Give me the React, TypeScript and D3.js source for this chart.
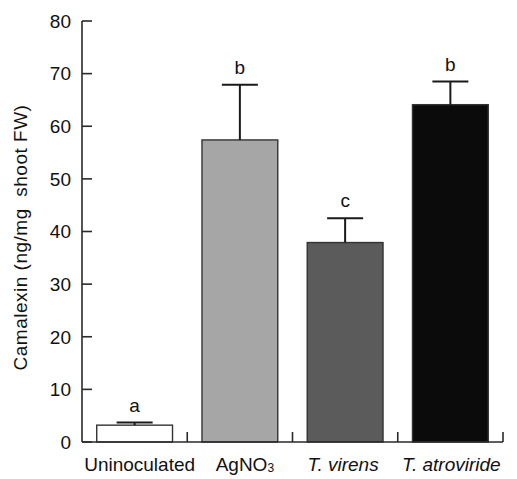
import React from "react";
import * as d3 from "d3";

const categories = ["Uninoculated", "AgNO3", "T. virens", "T. atroviride"];
const means = [3.2, 57.4, 37.9, 64.1];
const errors = [0.5, 10.5, 4.6, 4.4];
const letters = ["a", "b", "c", "b"];
const fills = ["#ffffff", "#a6a6a6", "#5b5b5b", "#0b0b0b"];
const yTicks = [0, 10, 20, 30, 40, 50, 60, 70, 80];

const W = 517;
const H = 479;
const FONT = "Liberation Sans, Arial, Helvetica, sans-serif";

export default function App() {
  const x = d3
    .scaleBand<string>()
    .domain(categories)
    .range([82, 503])
    .paddingInner(0.28)
    .paddingOuter(0.14);
  const y = d3.scaleLinear().domain([0, 80]).range([442, 21]);
  const step = x.step();
  const bw = x.bandwidth();
  const axisColor = "#2a2a2a";
  const labelDx = [5, 5, -2, 1];

  return (
    <svg
      width={W}
      height={H}
      style={{ position: "absolute", left: 0, top: 0, background: "#fff" }}
      fontFamily={FONT}
    >
      {/* bars */}
      {categories.map((c, i) => (
        <rect
          key={c}
          x={x(c)!}
          y={y(means[i])}
          width={bw}
          height={y(0) - y(means[i])}
          fill={fills[i]}
          stroke="#333"
          strokeWidth={1.4}
        />
      ))}
      {/* error bars */}
      {categories.map((c, i) => {
        const cx = x(c)! + bw / 2;
        const top = y(means[i] + errors[i]);
        return (
          <g key={"e" + c} stroke="#1a1a1a" strokeWidth={2}>
            <line x1={cx} x2={cx} y1={y(means[i])} y2={top} />
            <line x1={cx - 18} x2={cx + 18} y1={top} y2={top} />
          </g>
        );
      })}
      {/* letters */}
      {categories.map((c, i) => (
        <text
          key={"l" + c}
          x={x(c)! + bw / 2}
          y={y(means[i] + errors[i]) - 11}
          textAnchor="middle"
          fontSize={19}
          fill="#111"
        >
          {letters[i]}
        </text>
      ))}
      {/* y axis */}
      <line x1={82} x2={82} y1={y(80)} y2={y(0)} stroke={axisColor} strokeWidth={1.6} />
      {yTicks.map((t) => (
        <g key={"yt" + t}>
          <line x1={82} x2={92} y1={y(t)} y2={y(t)} stroke={axisColor} strokeWidth={1.6} />
          <text
            x={71}
            y={y(t)}
            dy="0.36em"
            textAnchor="end"
            fontSize={19}
            fill="#111"
          >
            {t}
          </text>
        </g>
      ))}
      {/* x axis */}
      <line x1={82} x2={x.range()[1]} y1={y(0)} y2={y(0)} stroke={axisColor} strokeWidth={1.6} />
      {categories.map((c) => {
        const bx = x(c)! + bw + (step - bw) / 2;
        return (
          <line
            key={"xt" + c}
            x1={bx}
            x2={bx}
            y1={y(0)}
            y2={y(0) - 10}
            stroke={axisColor}
            strokeWidth={1.6}
          />
        );
      })}
      {/* x labels */}
      {categories.map((c, i) => {
        const cx = x(c)! + bw / 2 + labelDx[i];
        const ty = 471;
        if (c === "AgNO3") {
          return (
            <text key={"xl" + c} x={cx} y={ty} textAnchor="middle" fontSize={19} fill="#111">
              AgNO
              <tspan fontSize={12} dy={1}>
                3
              </tspan>
            </text>
          );
        }
        const italic = c.startsWith("T.");
        return (
          <text
            key={"xl" + c}
            x={cx}
            y={ty}
            textAnchor="middle"
            fontSize={19}
            fontStyle={italic ? "italic" : "normal"}
            fill="#111"
          >
            {c}
          </text>
        );
      })}
      {/* y label */}
      <text
        transform={`translate(27, ${237.5}) rotate(-90)`}
        textAnchor="middle"
        fontSize={19}
        letterSpacing={0.5}
        fill="#111"
        style={{ whiteSpace: "pre" }}
      >
        {"Camalexin (ng/mg  shoot FW)"}
      </text>
    </svg>
  );
}
